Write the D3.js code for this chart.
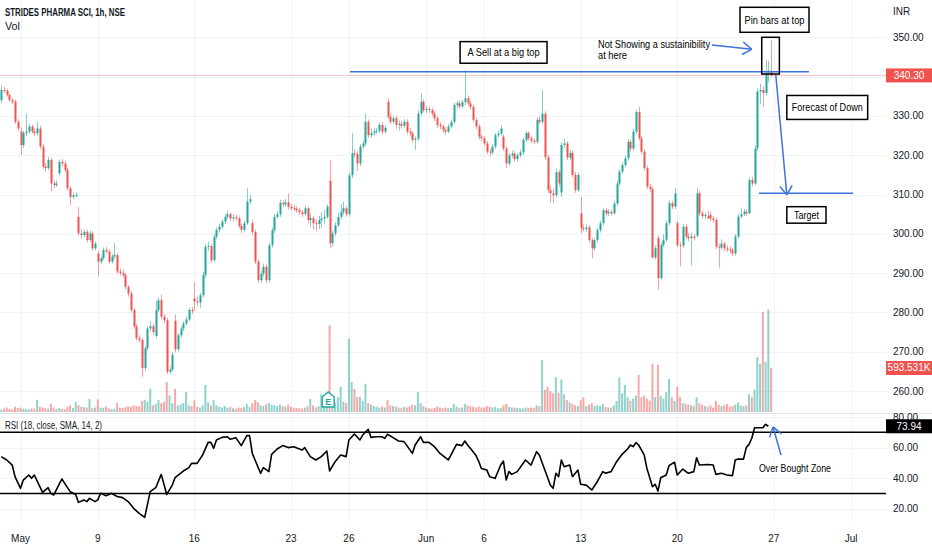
<!DOCTYPE html>
<html>
<head>
<meta charset="utf-8">
<script src="https://cdn.jsdelivr.net/npm/d3@7"></script>
<style>
  body { margin: 0; background: #fff; }
  svg { display: block; font-family: "Liberation Sans", Arial, sans-serif; }
</style>
</head>
<body>
<svg id="chart" width="932" height="550"></svg>
<script>
// STRIDES PHARMA SCI 1h candles, Apr 29 - Jun 24 (7 bars per day)
const opens = [
  334.0,336.6,336.4,335.3,334.0,333.6,328.5,
  326.0,322.6,325.6,326.0,327.3,326.0,325.6,
  326.8,322.2,317.1,316.7,318.8,312.8,312.4,
  315.4,318.3,317.9,316.2,311.6,309.4,309.8,
  304.3,300.1,299.7,300.5,298.4,300.1,296.3,
  295.0,292.9,293.8,295.9,295.5,292.9,294.2,
  294.6,290.4,290.0,289.5,286.5,284.8,280.6,
  276.4,273.4,273.0,265.8,270.9,275.9,276.5,
  274.0,280.6,283.1,278.9,278.0,264.9,265.5,
  277.9,270.6,274.2,275.9,277.2,278.2,280.6,
  283.5,282.8,282.5,284.4,289.5,296.7,296.9,
  293.3,299.3,301.0,301.8,303.1,304.3,305.0,
  303.9,304.2,303.9,302.0,301.0,302.7,308.2,
  302.7,300.5,292.9,288.2,289.9,291.6,288.2,
  297.1,300.9,304.3,305.0,307.9,307.5,308.0,
  306.9,306.5,306.4,306.0,305.5,305.0,306.5,
  303.5,304.0,302.7,302.5,303.5,303.9,304.3,
  313.5,297.6,300.1,302.2,304.3,305.6,306.5,
  305.0,314.9,320.5,320.3,317.9,322.2,323.0,
  328.5,325.1,325.6,326.0,326.2,327.7,326.0,
  333.6,329.8,328.5,329.4,327.7,328.0,327.5,
  328.5,326.0,325.6,323.9,324.2,330.6,333.6,
  331.5,331.8,331.5,330.6,329.4,327.7,327.3,
  326.4,326.0,327.3,328.5,332.8,333.2,332.4,
  333.5,334.5,333.2,332.3,329.0,327.3,324.7,
  324.3,323.0,320.9,320.7,322.2,325.1,325.5,
  324.7,321.7,317.9,320.0,320.4,319.0,320.0,
  320.7,323.9,325.6,324.3,323.7,323.4,329.0,
  328.5,330.6,319.5,311.1,310.3,309.8,315.7,
  310.5,322.6,323.0,319.4,320.6,315.0,311.1,
  305.2,301.4,301.2,301.6,298.4,296.3,298.4,
  300.9,302.7,306.0,305.2,305.6,305.2,307.7,
  312.8,315.8,317.5,319.2,323.4,321.7,326.0,
  331.0,324.3,320.9,316.7,312.0,311.4,294.0,
  298.9,288.7,297.2,298.5,302.7,307.8,306.9,
  302.7,297.2,297.0,301.8,299.3,298.9,299.3,
  299.5,310.3,305.2,304.5,304.5,304.8,303.9,
  303.5,296.7,296.5,297.5,296.3,296.0,295.8,
  295.0,299.3,304.4,305.0,305.6,305.2,313.7,
  312.8,321.7,336.2,336.6,335.8,341.0,341.5
];
const closes = [
  336.6,336.4,335.3,334.0,333.6,328.5,326.8,
  322.6,325.6,326.0,327.3,326.0,325.6,326.8,
  322.2,317.1,316.7,318.8,312.8,312.4,312.8,
  318.3,317.9,316.2,311.6,309.4,309.8,309.9,
  300.1,299.7,300.5,298.4,300.1,296.3,297.5,
  292.9,293.8,295.9,295.5,292.9,294.2,294.6,
  290.4,290.0,289.5,286.5,284.8,280.6,276.4,
  273.4,273.0,265.8,270.9,275.9,276.5,275.0,
  280.6,283.1,278.9,278.0,264.9,265.5,269.2,
  270.6,274.2,275.9,277.2,278.2,280.6,280.3,
  282.8,282.5,284.4,289.5,296.7,296.9,293.3,
  299.3,301.0,301.8,303.1,304.3,305.0,303.9,
  304.2,303.9,302.0,301.0,302.7,308.2,308.8,
  300.5,292.9,288.2,289.9,291.6,288.2,297.1,
  300.9,304.3,305.0,307.9,307.5,308.0,306.9,
  306.5,306.4,306.0,305.5,305.0,306.5,303.5,
  304.0,302.7,302.5,303.5,303.9,304.3,306.9,
  297.6,300.1,302.2,304.3,305.6,306.5,305.0,
  314.9,320.5,320.3,317.9,322.2,323.0,328.5,
  325.1,325.6,326.0,326.2,327.7,326.0,327.0,
  329.8,328.5,329.4,327.7,328.0,327.5,328.5,
  326.0,325.6,323.9,324.2,330.6,333.6,331.5,
  331.8,331.5,330.6,329.4,327.7,327.3,326.4,
  326.0,327.3,328.5,332.8,333.2,332.4,333.5,
  334.5,333.2,332.3,329.0,327.3,324.7,324.3,
  323.0,320.9,320.7,322.2,325.1,325.5,326.8,
  321.7,317.9,320.0,320.4,319.0,320.0,320.7,
  323.9,325.6,324.3,323.7,323.4,329.0,328.5,
  330.6,319.5,311.1,310.3,309.8,315.7,312.8,
  322.6,323.0,319.4,320.6,315.0,311.1,315.0,
  301.4,301.2,301.6,298.4,296.3,298.4,300.9,
  302.7,306.0,305.2,305.6,305.2,307.7,312.8,
  315.8,317.5,319.2,323.4,321.7,326.0,331.0,
  324.3,320.9,316.7,312.0,311.4,294.0,296.3,
  288.7,297.2,298.5,302.7,307.8,306.9,310.3,
  297.2,297.0,301.8,299.3,298.9,299.3,299.0,
  310.3,305.2,304.5,304.8,303.9,303.9,303.5,
  296.7,296.5,297.5,296.3,296.0,295.8,295.0,
  299.3,304.4,305.0,305.6,305.2,313.7,312.8,
  321.7,336.2,336.6,335.8,341.0,341.5,340.3
];
const highs = [
  337.8,337.4,336.9,335.8,334.6,334.2,329.2,
  327.0,326.2,330.6,328.0,327.8,326.8,328.5,
  327.5,322.8,318.0,319.6,319.3,313.5,313.6,
  318.9,319.0,318.6,316.8,312.2,310.5,310.6,
  306.8,301.2,301.0,301.1,300.8,300.6,298.1,
  295.6,294.5,296.5,296.6,296.0,294.8,297.6,
  295.1,291.2,290.9,290.1,287.0,285.4,281.2,
  277.0,274.2,273.6,271.5,276.6,277.8,277.2,
  283.0,283.8,284.5,279.6,278.6,266.2,269.9,
  279.5,274.8,276.5,277.8,278.9,281.2,281.3,
  287.7,284.0,285.0,290.4,297.4,298.0,297.5,
  299.9,301.6,302.5,303.7,305.0,305.9,305.4,
  305.0,304.8,304.4,302.6,303.3,311.6,309.8,
  303.6,301.1,293.5,290.6,292.4,292.3,297.8,
  301.6,305.0,305.8,308.6,308.5,308.8,310.3,
  307.6,307.3,307.0,306.6,306.1,307.2,306.9,
  305.2,304.5,303.8,304.6,305.5,306.0,307.5,
  318.8,300.8,303.0,305.3,307.5,308.2,307.1,
  315.6,325.7,321.5,321.0,322.8,323.7,330.6,
  329.1,326.8,326.9,327.0,328.3,328.4,327.6,
  334.5,330.5,330.0,330.0,328.8,328.7,329.1,
  329.2,327.0,326.2,324.8,331.3,335.7,334.2,
  332.6,332.4,332.1,331.2,330.0,328.4,327.9,
  327.0,327.9,329.1,333.4,333.9,333.8,334.1,
  341.7,335.2,333.8,332.9,329.6,327.9,325.3,
  324.9,323.6,321.6,322.8,325.7,326.3,327.5,
  325.3,322.3,320.6,321.2,321.0,320.6,321.4,
  324.5,326.2,326.1,324.9,324.3,329.6,329.8,
  336.6,331.2,320.1,312.3,311.5,316.6,316.3,
  323.3,324.2,323.6,321.3,321.2,315.7,315.6,
  309.4,302.3,302.4,302.2,299.0,299.0,301.5,
  303.4,306.6,306.6,306.3,306.2,308.3,313.5,
  316.5,318.2,319.9,324.1,324.0,326.7,331.6,
  332.3,324.9,321.5,317.3,312.8,312.0,297.0,
  299.5,297.8,299.9,303.4,308.5,308.4,311.6,
  303.3,298.0,302.6,302.4,300.2,300.3,300.0,
  311.6,310.9,305.8,305.4,305.8,305.6,304.5,
  304.1,297.5,298.6,298.0,297.0,296.8,296.4,
  299.9,305.1,306.5,306.3,306.2,314.3,314.5,
  322.5,337.0,338.2,337.5,344.2,344.0,349.2
];
const lows = [
  333.2,335.8,334.9,333.6,333.0,328.0,326.2,
  320.1,321.8,324.8,325.4,325.5,324.9,325.0,
  321.6,316.5,315.8,316.2,310.8,311.6,311.9,
  314.9,317.2,315.6,310.9,307.3,308.8,309.2,
  299.6,298.8,299.1,297.8,297.9,295.7,295.8,
  289.1,292.3,293.3,295.0,292.4,292.4,293.6,
  289.8,289.3,288.9,285.9,284.0,279.9,275.8,
  272.8,272.3,263.6,265.2,270.2,275.2,274.3,
  273.4,280.0,278.2,277.3,264.3,264.3,265.0,
  269.8,270.0,273.6,275.3,276.6,277.8,279.6,
  280.5,281.6,281.2,283.8,288.8,295.6,292.6,
  292.7,298.6,300.3,301.2,302.5,303.8,303.2,
  303.2,303.3,301.4,300.2,300.5,302.2,307.5,
  299.8,292.3,287.5,287.6,289.2,287.4,287.6,
  296.5,300.2,303.9,304.3,306.8,306.9,306.2,
  305.9,305.8,305.3,304.9,304.3,304.6,302.7,
  301.9,301.0,300.6,301.2,301.5,302.6,303.8,
  296.3,296.8,299.4,301.6,303.6,304.9,304.4,
  304.4,314.2,319.4,316.0,317.2,321.5,322.4,
  324.4,324.5,325.0,325.4,325.7,325.3,325.4,
  329.2,327.9,327.9,326.6,326.2,326.8,326.9,
  325.3,324.8,323.2,321.3,323.6,330.0,330.9,
  330.8,330.8,330.0,328.7,326.9,326.6,325.7,
  325.2,325.6,326.8,328.0,332.1,331.8,331.9,
  332.8,332.6,331.6,328.4,326.6,324.0,323.5,
  322.4,320.3,319.7,320.1,321.6,324.5,325.0,
  321.1,316.7,317.2,319.4,318.3,318.4,319.4,
  320.1,323.3,323.8,323.1,322.8,322.9,327.9,
  327.9,318.8,310.4,308.0,307.8,309.2,312.0,
  309.4,321.9,318.7,318.8,314.4,310.4,310.6,
  300.1,300.6,300.5,297.8,293.8,295.7,297.8,
  300.3,302.1,304.6,304.5,304.6,304.8,307.1,
  312.2,315.2,316.9,318.6,321.0,321.2,325.4,
  323.7,320.3,316.1,311.4,310.5,293.6,293.4,
  285.7,288.1,296.6,297.9,302.1,306.2,306.3,
  296.6,291.7,296.4,298.7,298.1,291.9,298.3,
  299.0,304.6,303.8,303.6,303.9,303.2,302.8,
  296.1,291.4,295.9,295.6,295.4,295.0,294.3,
  294.5,298.7,304.0,304.5,304.6,304.9,312.0,
  312.3,321.1,333.0,332.4,335.2,338.5,339.8
];
// volume in thousands
const volumes = [
  30,45,60,40,35,70,55,
  60,45,40,35,50,45,165,
  70,60,55,45,110,60,40,
  50,45,40,70,85,55,135,
  90,70,65,60,175,50,60,
  170,60,55,70,50,40,45,
  120,60,55,65,80,70,90,
  80,75,150,165,140,315,90,
  110,165,120,140,405,225,120,
  310,90,100,120,270,90,80,
  160,70,60,90,365,130,90,
  160,90,70,60,80,55,70,
  50,45,60,55,70,110,65,
  120,160,130,90,80,100,120,
  100,90,80,100,80,70,100,
  70,60,55,50,45,60,80,
  175,90,60,80,240,110,100,
  1170,160,120,200,340,140,120,
  990,405,310,200,205,150,380,
  120,100,80,70,60,75,60,
  160,90,80,70,60,55,70,
  60,80,100,90,270,120,80,
  60,50,45,55,70,60,50,
  60,50,55,110,70,50,60,
  110,90,80,70,60,70,60,
  60,80,70,60,70,50,55,
  90,110,70,60,60,55,50,
  50,60,55,60,55,90,80,
  700,300,340,280,250,470,260,
  440,240,160,130,110,90,80,
  160,200,80,100,120,80,90,
  80,110,70,60,60,90,150,
  470,250,365,200,150,180,220,
  500,200,220,180,150,650,200,
  635,220,180,270,445,200,150,
  340,200,120,110,100,90,80,
  200,120,100,80,70,90,60,
  150,100,80,90,110,70,80,
  100,130,90,80,90,240,200,
  300,740,650,1350,675,1380,593.531
];
// RSI readings (bar index, value)
const rsiBars = [0,2,4,5,7,8,10,11,12,14,15,17,18,19,22,23,25,27,28,30,31,32,34,35,36,38,40,42,44,46,48,50,52,54,56,58,60,62,63,66,68,69,71,73,75,76,77,78,80,82,83,85,87,89,90,91,94,95,97,98,100,102,104,106,109,110,112,114,116,118,119,121,123,125,126,128,130,131,133,134,136,138,139,140,142,144,146,149,150,152,153,155,157,159,162,163,165,167,168,169,170,172,173,174,176,177,179,181,182,183,184,185,187,190,192,194,195,197,199,200,201,202,203,204,206,207,209,210,212,214,216,218,219,221,223,225,227,228,229,230,231,233,234,236,237,238,239,241,242,244,245,247,249,251,252,253,256,258,259,261,263,265,266,267,269,270,271,272,273,275,276,277,278,279];
const rsiVals = [54.1,51.9,48.6,41.0,33.4,38.8,42.1,39.9,42.1,34.5,30.8,33.8,30.1,29.0,39.5,36.6,31.2,29.4,24.2,25.8,24.7,26.8,24.7,25.8,30.1,28.6,30.1,28.0,27.3,24.7,20.3,17.0,14.4,31.2,33.8,42.5,29.4,35.5,40.3,44.7,46.9,49.7,49.7,55.2,63.4,63.4,59.5,65.0,66.7,67.1,65.4,66.5,61.3,67.8,67.8,56.2,43.2,46.9,44.3,55.6,59.1,61.3,60.0,60.6,58.4,60.0,54.1,51.9,54.1,57.8,44.7,50.8,55.2,54.1,65.0,68.9,65.0,68.2,71.9,66.7,67.1,67.1,66.0,68.7,66.5,64.3,63.9,56.2,61.7,67.1,63.4,63.4,60.6,56.2,51.9,55.2,62.1,61.3,64.3,61.7,59.5,55.0,51.2,46.4,45.3,41.0,39.9,48.6,51.2,38.8,44.3,42.5,44.3,51.9,48.6,57.3,55.2,45.3,35.5,33.4,43.2,41.0,51.9,47.5,48.6,41.0,45.3,36.0,35.5,32.3,37.7,44.3,43.2,44.3,50.8,55.6,59.1,61.7,60.6,63.2,61.7,55.2,46.4,34.5,36.0,31.6,40.3,42.1,48.2,50.4,42.1,46.0,43.2,44.3,53.4,48.6,49.0,48.6,42.5,43.2,42.1,41.7,51.9,52.5,52.5,60.0,62.1,66.1,73.0,73.0,73.0,75.2,73.94];

const tickBars = [7, 35, 70, 105, 126, 154, 175, 210, 245, 280, 308];
const tickLabels = ['May', '9', '16', '23', '26', 'Jun', '6', '13', '20', '27', 'Jul'];
const priceTicks = [350, 330, 320, 310, 300, 290, 280, 270, 260];
const rsiTicks = [80, 60, 40, 20];
const lastPrice = 340.30, lastVolume = 593.531, lastRsi = 73.94;

const UP = '#26a69a', DOWN = '#ef5350', BLUE = '#3f72d9';

const svg = d3.select('#chart');
const plotRight = 886;

// scales
const x = d3.scaleLinear().domain([0, 321]).range([1.2, 887]);
const y = d3.scaleLinear().domain([260, 350]).range([391, 37.3]);
const yVol = d3.scaleLinear().domain([0, 1400]).range([412, 308.2]);
const yRsi = d3.scaleLinear().domain([20, 80]).range([508.8, 417]);

// grid
const grid = svg.append('g').attr('stroke', '#f0f3fa').attr('stroke-width', 1);
grid.selectAll('line.h').data(priceTicks.concat([340])).join('line')
  .attr('x1', 0).attr('x2', plotRight)
  .attr('y1', d => Math.round(y(d)) + 0.5).attr('y2', d => Math.round(y(d)) + 0.5);
grid.selectAll('line.r').data(rsiTicks).join('line')
  .attr('x1', 0).attr('x2', plotRight)
  .attr('y1', d => Math.round(yRsi(d)) + 0.5).attr('y2', d => Math.round(yRsi(d)) + 0.5);
grid.selectAll('line.v').data(tickBars).join('line')
  .attr('x1', d => Math.round(x(d)) + 0.5).attr('x2', d => Math.round(x(d)) + 0.5)
  .attr('y1', 0).attr('y2', 522);

// pane separator
svg.append('line').attr('x1', 0).attr('x2', 932).attr('y1', 413.5).attr('y2', 413.5)
  .attr('stroke', '#e0e3eb');

const idx = d3.range(closes.length);
const isUp = i => closes[i] >= opens[i];

// volume
svg.append('g').selectAll('rect').data(idx).join('rect')
  .attr('x', i => x(i) - 1)
  .attr('width', 2)
  .attr('y', i => yVol(volumes[i]))
  .attr('height', i => 412 - yVol(volumes[i]))
  .attr('fill', i => isUp(i) ? UP : DOWN)
  .attr('fill-opacity', 0.5);

// last price line
svg.append('line').attr('x1', 0).attr('x2', plotRight)
  .attr('y1', y(lastPrice)).attr('y2', y(lastPrice))
  .attr('stroke', DOWN).attr('stroke-opacity', 0.35);

// candles
const candles = svg.append('g');
candles.selectAll('line').data(idx).join('line')
  .attr('x1', i => Math.round(x(i)) + 0.5).attr('x2', i => Math.round(x(i)) + 0.5)
  .attr('y1', i => y(highs[i])).attr('y2', i => y(lows[i]))
  .attr('stroke', i => isUp(i) ? UP : DOWN)
  .attr('stroke-opacity', 0.55);
candles.selectAll('rect').data(idx).join('rect')
  .attr('x', i => Math.round(x(i)) - 0.5)
  .attr('width', 2)
  .attr('y', i => y(Math.max(opens[i], closes[i])))
  .attr('height', i => Math.max(1, Math.abs(y(opens[i]) - y(closes[i]))))
  .attr('fill', i => isUp(i) ? UP : DOWN);

// earnings marker
const eg = svg.append('g').attr('transform', `translate(${x(118.5)},400)`);
eg.append('path').attr('d', 'M-6,-3 L0,-8 L6,-3 L6,7 L-6,7 Z')
  .attr('fill', '#fff').attr('stroke', UP).attr('stroke-width', 1.4);
eg.append('text').attr('y', 5).attr('text-anchor', 'middle')
  .attr('font-size', 9).attr('font-weight', 'bold').attr('fill', UP).text('E');

// RSI
svg.append('g').selectAll('line').data([70, 30]).join('line')
  .attr('x1', 0).attr('x2', plotRight)
  .attr('y1', d => yRsi(d)).attr('y2', d => yRsi(d))
  .attr('stroke', '#000').attr('stroke-width', 1.5);
svg.append('path')
  .datum(rsiBars.map((b, k) => [b, rsiVals[k]]))
  .attr('d', d3.line().x(d => x(d[0])).y(d => yRsi(d[1])))
  .attr('fill', 'none').attr('stroke', '#000').attr('stroke-width', 1.6)
  .attr('stroke-linejoin', 'round');

// axes text
const axisColor = '#131722';
svg.append('g').selectAll('text').data(priceTicks).join('text')
  .attr('x', 893).attr('y', d => y(d) + 3.5)
  .attr('font-size', 10).attr('fill', axisColor).text(d => d.toFixed(2));
svg.append('g').selectAll('text').data(rsiTicks).join('text')
  .attr('x', 893).attr('y', d => yRsi(d) + 3.5)
  .attr('font-size', 10).attr('fill', axisColor).text(d => d.toFixed(2));
svg.append('text').attr('x', 893).attr('y', 15).attr('font-size', 10)
  .attr('fill', axisColor).text('INR');
svg.append('g').selectAll('text').data(tickBars).join('text')
  .attr('x', d => x(d)).attr('y', 542).attr('text-anchor', 'middle')
  .attr('font-size', 10).attr('fill', axisColor).text((d, k) => tickLabels[k]);

// value tags
function tag(yc, txt, fill) {
  svg.append('rect').attr('x', 886).attr('y', yc - 7).attr('width', 46).attr('height', 14)
    .attr('fill', fill);
  svg.append('text').attr('x', 909).attr('y', yc + 3.5).attr('text-anchor', 'middle')
    .attr('font-size', 10).attr('fill', '#fff').text(txt);
}
tag(y(lastPrice), lastPrice.toFixed(2), DOWN);
tag(yVol(lastVolume), lastVolume.toFixed(3) + 'K', DOWN);
tag(yRsi(lastRsi), lastRsi.toFixed(2), '#000');

// titles (narrow, like the source font)
function label(x0, y0, txt, w, opts = {}) {
  const t = svg.append('text').attr('x', x0).attr('y', y0)
    .attr('font-size', opts.size || 10.5).attr('fill', opts.fill || axisColor)
    .attr('textLength', w).attr('lengthAdjust', 'spacingAndGlyphs').text(txt);
  if (opts.bold) t.attr('font-weight', 'bold');
  if (opts.anchor) t.attr('text-anchor', opts.anchor);
  return t;
}
label(5, 16, 'STRIDES PHARMA SCI, 1h, NSE', 120, { bold: true });
label(5, 30, 'Vol', 15);
label(5, 429, 'RSI (18, close, SMA, 14, 2)', 97);

// drawings
const ann = svg.append('g');
function box(x0, y0, x1, y1, txt, w) {
  ann.append('rect').attr('x', x0).attr('y', y0).attr('width', x1 - x0).attr('height', y1 - y0)
    .attr('fill', txt ? '#fff' : 'none').attr('stroke', '#000').attr('stroke-width', 1.5);
  if (txt) label((x0 + x1) / 2, (y0 + y1) / 2 + 4, txt, w, { size: 11.5, fill: '#000', anchor: 'middle' });
}
function seg(x0, y0, x1, y1) {
  ann.append('line').attr('x1', x0).attr('y1', y0).attr('x2', x1).attr('y2', y1)
    .attr('stroke', BLUE).attr('stroke-width', 1.5);
}
function arrow(x0, y0, x1, y1) {
  seg(x0, y0, x1, y1);
  const a = Math.atan2(y1 - y0, x1 - x0), L = 11;
  seg(x1, y1, x1 - L * Math.cos(a - 0.6), y1 - L * Math.sin(a - 0.6));
  seg(x1, y1, x1 - L * Math.cos(a + 0.6), y1 - L * Math.sin(a + 0.6));
}
// resistance and target lines
seg(x(126.4), y(341.25), x(292.7), y(341.25));
seg(x(274.6), y(310.3), x(308.7), y(310.3));
box(x(166.3), y(348.9), x(197.8), y(343.4), 'A Sell at a big top', 72);
box(740, 7.3, 809, 32.3, 'Pin bars at top', 60);
box(x(275.6), y(350), x(282.0), y(340.66), null);
box(x(284.7), y(335.2), x(314.0), y(329.1), 'Forecast of Down', 71);
box(x(284.7), y(306.9), x(298.9), y(302.7), 'Target', 25);
label(598, 48, 'Not Showing a sustainibility', 112, { size: 11.5, fill: '#000' });
label(598, 59, 'at here', 29, { size: 11.5, fill: '#000' });
arrow(712, 45, 751.7, 49.3);
arrow(x(280.7), y(340.4), x(284.7), y(309.9));
label(795, 472, 'Over Bought Zone', 72, { size: 11.5, fill: '#000', anchor: 'middle' });
arrow(781, 455, x(279.7), yRsi(73.5));
</script>
</body>
</html>
